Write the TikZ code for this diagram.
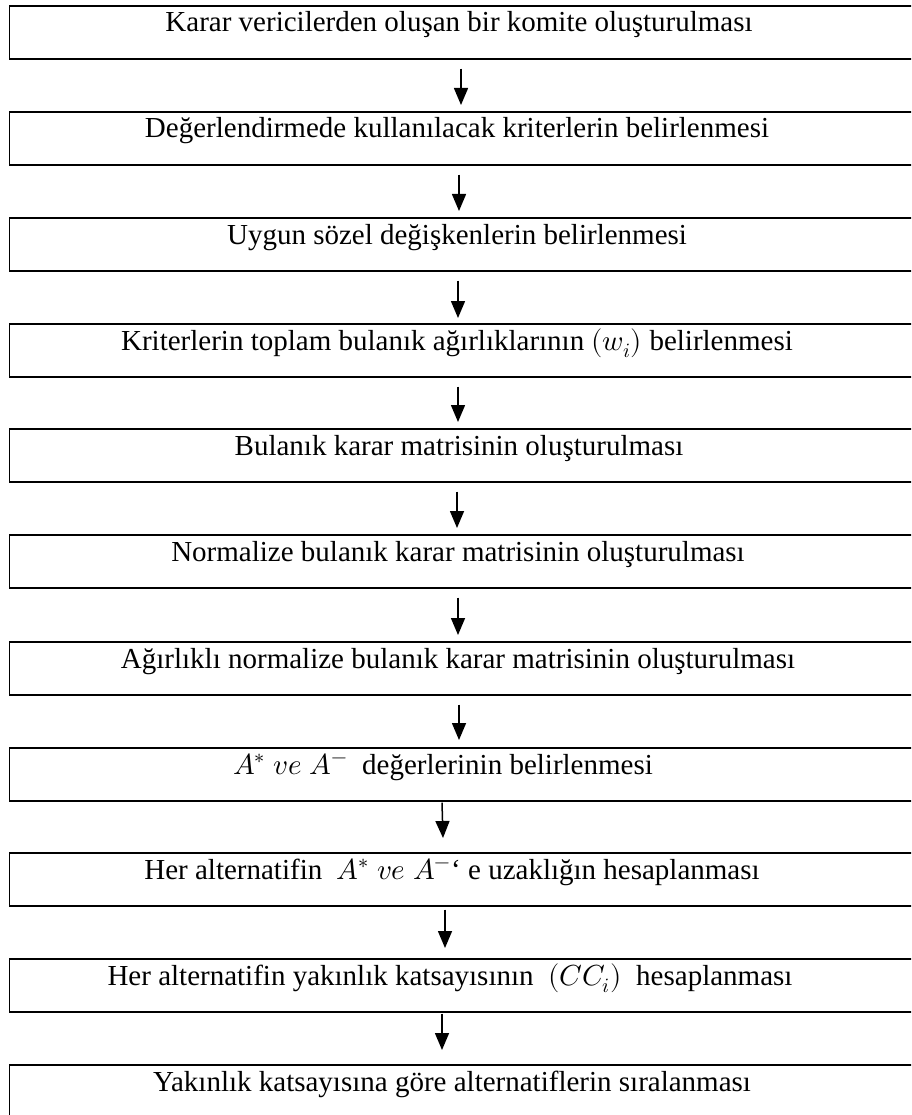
\documentclass[tikz,border=0pt]{standalone}
\usepackage{fontspec}
\usepackage{unicode-math}
\setmainfont{Liberation Serif}
\setmathfont{Latin Modern Math}
\usetikzlibrary{arrows.meta}
\tikzset{
  stepbox/.style={draw=black, line width=1.6pt, rectangle, inner sep=0pt,
    minimum width=907.3pt, minimum height=53pt, anchor=north west},
  steptext/.style={anchor=base, inner sep=0pt, font=\fontsize{29}{34}\selectfont},
  flowarrow/.style={line width=1.5pt, -{Triangle[width=14pt,length=17pt]}}
}
\begin{document}
\begin{tikzpicture}[x=1pt,y=-1pt]
\useasboundingbox (0,0) rectangle (911,1115);
\clip (0,0) rectangle (911,1115);
\fill[white] (0,0) rectangle (911,1115);
% boxes
\node[stepbox] (b1)  at (8.7,5)    {};
\node[stepbox] (b2)  at (8.7,111)  {};
\node[stepbox] (b3)  at (8.7,217)  {};
\node[stepbox] (b4)  at (8.7,323)  {};
\node[stepbox] (b5)  at (8.7,428)  {};
\node[stepbox] (b6)  at (8.7,534)  {};
\node[stepbox] (b7)  at (8.7,641)  {};
\node[stepbox] (b8)  at (8.7,747)  {};
\node[stepbox] (b9)  at (8.7,852)  {};
\node[stepbox] (b10) at (8.7,958)  {};
\node[stepbox] (b11) at (8.7,1064) {};
% texts
\node[steptext] (t1)  at (459,32)   {Karar vericilerden oluşan bir komite oluşturulması};
\node[steptext] (t2)  at (457,138)  {Değerlendirmede kullanılacak kriterlerin belirlenmesi};
\node[steptext] (t3)  at (457,244)  {Uygun sözel değişkenlerin belirlenmesi};
\node[steptext] (t4)  at (457,350)  {Kriterlerin toplam bulanık ağırlıklarının $(w_i)$ belirlenmesi};
\node[steptext] (t5)  at (459,455)  {Bulanık karar matrisinin oluşturulması};
\node[steptext] (t6)  at (458,561)  {Normalize bulanık karar matrisinin oluşturulması};
\node[steptext] (t7)  at (458,668)  {Ağırlıklı normalize bulanık karar matrisinin oluşturulması};
\node[steptext] (t8)  at (443,774)  {$A^{*}\;ve\;A^{-}$\ \ değerlerinin belirlenmesi};
\node[steptext] (t9)  at (452,879)  {Her alternatifin\ \ $A^{*}\;ve\;A^{-}$‘ e uzaklığın hesaplanması};
\node[steptext] (t10) at (450,985)  {Her alternatifin yakınlık katsayısının\ \ $(CC_i)$\ \ hesaplanması};
\node[steptext] (t11) at (452,1091) {Yakınlık katsayısına göre alternatiflerin sıralanması};
% arrows
\draw[flowarrow] ([xshift=452.3pt,yshift=-9pt]b1.south west) -- ([xshift=452.3pt,yshift=6pt]b2.north west);
\draw[flowarrow] ([xshift=450.3pt,yshift=-9pt]b2.south west) -- ([xshift=450.3pt,yshift=6pt]b3.north west);
\draw[flowarrow] ([xshift=449.3pt,yshift=-9pt]b3.south west) -- ([xshift=449.3pt,yshift=5pt]b4.north west);
\draw[flowarrow] ([xshift=449.3pt,yshift=-9pt]b4.south west) -- ([xshift=449.3pt,yshift=6pt]b5.north west);
\draw[flowarrow] ([xshift=448.3pt,yshift=-9pt]b5.south west) -- ([xshift=448.3pt,yshift=6pt]b6.north west);
\draw[flowarrow] ([xshift=449.3pt,yshift=-9pt]b6.south west) -- ([xshift=449.3pt,yshift=6pt]b7.north west);
\draw[flowarrow] ([xshift=450.3pt,yshift=-9pt]b7.south west) -- ([xshift=450.3pt,yshift=7pt]b8.north west);
\draw[flowarrow] ([xshift=433.3pt,yshift=-1pt]b8.south west) -- ([xshift=434.3pt,yshift=14pt]b9.north west);
\draw[flowarrow] ([xshift=436.3pt,yshift=-3pt]b9.south west) -- ([xshift=436.3pt,yshift=10pt]b10.north west);
\draw[flowarrow] ([xshift=433.3pt,yshift=-1pt]b10.south west) -- ([xshift=433.3pt,yshift=14pt]b11.north west);
\end{tikzpicture}
\end{document}
